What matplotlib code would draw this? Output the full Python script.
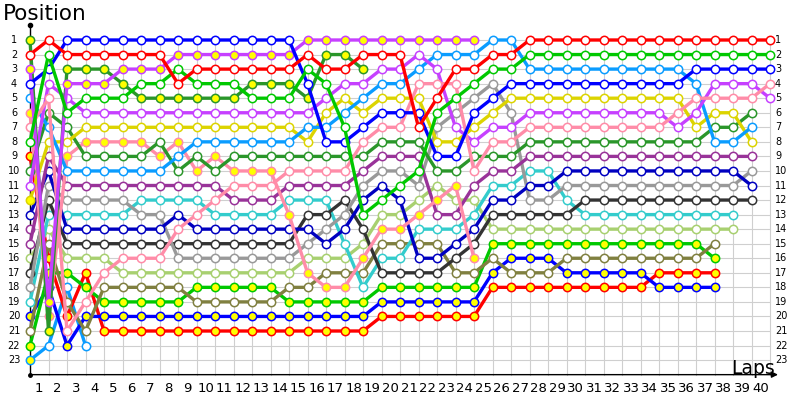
import matplotlib

matplotlib.use("Agg")
import matplotlib.pyplot as plt

# positions per lap, starting with the grid (lap 0)
RED = [2, 1, 2, 2, 2, 2, 2, 2, 4, 3, 3, 3, 3, 3, 3, 2, 3, 3, 2, 2,
       2, 7, 5, 3, 3, 2, 2, 1, 1, 1, 1, 1, 1, 1, 1, 1, 1, 1, 1, 1, 1]
GREEN = [8, 2, 6, 5, 5, 5, 4, 4, 3, 4, 4, 4, 5, 5, 5, 3, 4, 7, 13, 12,
         11, 10, 6, 5, 4, 3, 3, 2, 2, 2, 2, 2, 2, 2, 2, 2, 2, 2, 2, 2, 2]
BLUE = [4, 3, 1, 1, 1, 1, 1, 1, 1, 1, 1, 1, 1, 1, 1, 4, 8, 8, 7, 6,
        6, 6, 9, 9, 6, 5, 4, 4, 4, 4, 4, 4, 4, 4, 4, 4, 3, 3, 3, 3, 3]
PINK = [7, 5, 21, 19, 17, 16, 16, 16, 14, 13, 12, 11, 11, 11, 10, 10, 10, 10, 8, 7,
        7, 4, 4, 4, 10, 8, 8, 7, 7, 7, 7, 7, 7, 7, 7, 6, 5, 5, 5, 5, 4]
MAGENTA = [11, 4, 5, 6, 6, 6, 6, 6, 6, 6, 6, 6, 6, 6, 6, 6, 5, 4, 4, 3,
           3, 2, 3, 7, 8, 7, 7, 6, 6, 6, 6, 6, 6, 6, 6, 7, 6, 4, 4, 4, 5]
DARK_GREEN = [10, 6, 7, 9, 9, 9, 9, 8, 10, 9, 10, 9, 9, 9, 9, 9, 9, 9, 9, 8,
              8, 8, 10, 10, 9, 9, 9, 8, 8, 8, 8, 8, 8, 8, 8, 8, 8, 7, 7, 6]
LIGHT_BLUE = [5, 7, 10, 10, 10, 10, 10, 10, 9, 8, 8, 8, 8, 8, 8, 7, 7, 6, 5, 4,
              4, 3, 2, 2, 2, 1, 1, 3, 3, 3, 3, 3, 3, 3, 3, 3, 4, 8, 8, 7]
YELLOW = [12, 8, 8, 7, 7, 7, 7, 7, 7, 7, 7, 7, 7, 7, 7, 8, 6, 5, 6, 5,
          5, 5, 8, 8, 7, 6, 5, 5, 5, 5, 5, 5, 5, 5, 5, 5, 7, 6, 6, 8]
PURPLE = [15, 9, 11, 11, 11, 11, 11, 11, 11, 11, 11, 12, 12, 12, 11, 11, 11, 11, 10, 9,
          9, 9, 13, 13, 11, 10, 10, 9, 9, 9, 9, 9, 9, 9, 9, 9, 9, 9, 9, 9]
GREY = [18, 11, 12, 12, 12, 12, 13, 13, 16, 16, 16, 16, 16, 16, 16, 15, 14, 13, 11, 10,
        10, 11, 7, 6, 5, 4, 6, 12, 12, 11, 11, 11, 11, 11, 11, 11, 11, 11, 11, 10]
NAVY = [13, 10, 14, 14, 14, 14, 14, 14, 13, 14, 14, 14, 14, 14, 14, 14, 15, 14, 12, 11,
        12, 16, 16, 15, 14, 12, 12, 11, 11, 10, 10, 10, 10, 10, 10, 10, 10, 10, 10, 11]
DARK_GREY = [17, 12, 15, 15, 15, 15, 15, 15, 15, 15, 15, 15, 15, 15, 15, 13, 13, 12, 14, 17,
             17, 17, 17, 16, 15, 13, 13, 13, 13, 13, 12, 12, 12, 12, 12, 12, 12, 12, 12, 12]
CYAN = [19, 13, 13, 13, 13, 13, 12, 12, 12, 12, 13, 13, 13, 13, 12, 12, 12, 15, 18, 16,
        16, 14, 14, 14, 13, 11, 11, 10, 10, 12, 13, 13, 13, 13, 13, 13, 13, 13, 13]
LIME = [16, 14, 16, 16, 16, 17, 17, 17, 17, 17, 17, 17, 17, 17, 17, 16, 16, 16, 15, 13,
        13, 12, 11, 12, 12, 14, 14, 14, 14, 14, 14, 14, 14, 14, 14, 14, 14, 14, 14]
OLIVE = [21, 15, 19, 21, 18, 18, 18, 18, 18, 19, 19, 19, 19, 19, 18, 18, 17, 17, 17, 15,
         15, 15, 15, 17, 17, 16, 17, 17, 17, 16, 16, 16, 16, 16, 16, 16, 16, 15]
GREEN_B = [22, 17, 17, 18, 19, 19, 19, 19, 19, 18, 18, 18, 18, 18, 19, 19, 19, 19, 19, 18,
           18, 18, 18, 18, 18, 15, 15, 15, 15, 15, 15, 15, 15, 15, 15, 15, 15, 16]
RED_B = [9, 16, 20, 17, 21, 21, 21, 21, 21, 21, 21, 21, 21, 21, 21, 21, 21, 21, 21, 20,
         20, 20, 20, 20, 20, 18, 18, 18, 18, 18, 18, 18, 18, 18, 17, 17, 17, 17]
BLUE_B = [20, 18, 22, 20, 20, 20, 20, 20, 20, 20, 20, 20, 20, 20, 20, 20, 20, 20, 20, 19,
          19, 19, 19, 19, 19, 17, 16, 16, 16, 17, 17, 17, 17, 17, 18, 18, 18, 18]
DARK_GREEN_B = [1, 21, 3, 3, 3, 4, 5, 5, 5, 5, 5, 5, 4, 4, 4, 5, 2, 2, 3]
MAGENTA_B = [3, 19, 4, 4, 4, 3, 3, 3, 2, 2, 2, 2, 2, 2, 2, 1, 1, 1, 1, 1, 1, 1, 1, 1, 1]
PINK_B = [6, 20, 9, 8, 8, 8, 8, 9, 8, 10, 9, 10, 10, 10, 13, 17, 18, 18, 16, 14, 14, 13, 12, 11, 16]
LIGHT_BLUE_B = [23, 22, 18, 22]
SPARE = [14]

# (positions, colour, yellow markers: "all", "start" or "none")
DRIVERS = [
    (SPARE, "#993399", "none"),
    (LIGHT_BLUE_B, "#0a9cff", "start"),
    (RED_B, "#ff0000", "all"),
    (BLUE_B, "#0000ff", "all"),
    (GREEN_B, "#00c800", "all"),
    (OLIVE, "#808040", "none"),
    (LIME, "#a8d070", "none"),
    (CYAN, "#33cccc", "none"),
    (DARK_GREY, "#333333", "none"),
    (GREY, "#999999", "none"),
    (NAVY, "#0000c0", "none"),
    (PURPLE, "#993399", "none"),
    (PINK_B, "#ff8ca8", "all"),
    (DARK_GREEN, "#2a962a", "none"),
    (YELLOW, "#dcd400", "start"),
    (LIGHT_BLUE, "#0a9cff", "none"),
    (MAGENTA, "#c640ff", "none"),
    (PINK, "#ff8ca8", "none"),
    (DARK_GREEN_B, "#2a962a", "all"),
    (MAGENTA_B, "#c640ff", "all"),
    (BLUE, "#0000ff", "none"),
    (GREEN, "#00c800", "none"),
    (RED, "#ff0000", "none"),
]

N_POS = 23
N_LAPS = 40

# pixel layout of the original: lap k at x = 30 + 18.5 k, position p at y = 40 + 14.55 (p - 1)
DX, DY = 18.5, 14.55

fig = plt.figure(figsize=(8, 4), dpi=100)
ax = fig.add_axes([0, 0, 1, 1])
ax.set_xlim(-30 / DX, 770 / DX)
ax.set_ylim(1 + 360 / DY, 1 - 40 / DY)
ax.axis("off")

grid = "#cfcfcf"
for lap in range(1, N_LAPS + 1):
    ax.plot([lap, lap], [1, N_POS + 1], color=grid, lw=0.8, zorder=0)
for p in range(1, N_POS + 1):
    ax.plot([0, N_LAPS], [p, p], color=grid, lw=0.8, zorder=0)

# axes with arrows
ax.plot([0, 0], [N_POS + 1, 1 - 15 / DY], color="black", lw=1, zorder=1)
ax.plot([0], [1 - 15 / DY], "o", color="black", ms=3)
ax.plot([0], [N_POS + 1], "o", color="black", ms=2.5)
ax.annotate("", xy=(748 / DX, N_POS + 1), xytext=(0, N_POS + 1),
            arrowprops=dict(arrowstyle="-|>", color="black", lw=1,
                            mutation_scale=9, shrinkA=0, shrinkB=0))

for p in range(1, N_POS + 1):
    ax.text(-16 / DX, p, str(p), ha="center", va="center", fontsize=7)
    ax.text(745 / DX, p, str(p), ha="left", va="center", fontsize=7)
for lap in range(1, N_LAPS + 1):
    ax.text(lap - 0.5, 1 + 348 / DY, str(lap), ha="center", va="center", fontsize=9.5)

ax.text(-27 / DX, 1 - 26 / DY, "Position", ha="left", va="center", fontsize=15.5)
ax.text(701 / DX, 1 + 329 / DY, "Laps", ha="left", va="center", fontsize=13.5)

for i, (pos, color, fill) in enumerate(DRIVERS):
    laps = list(range(len(pos)))
    z = 2 + i * 0.01
    ax.plot(laps, pos, color=color, lw=2.4, solid_capstyle="round", zorder=z)
    for lap, p in zip(laps, pos):
        yellow = fill == "all" or (fill == "start" and lap == 0)
        ax.plot(lap, p, "o", ms=6, mew=1.1, mec=color,
                mfc="#ffff00" if yellow else "white", zorder=z + 0.005)

fig.savefig("out.png", dpi=100)
